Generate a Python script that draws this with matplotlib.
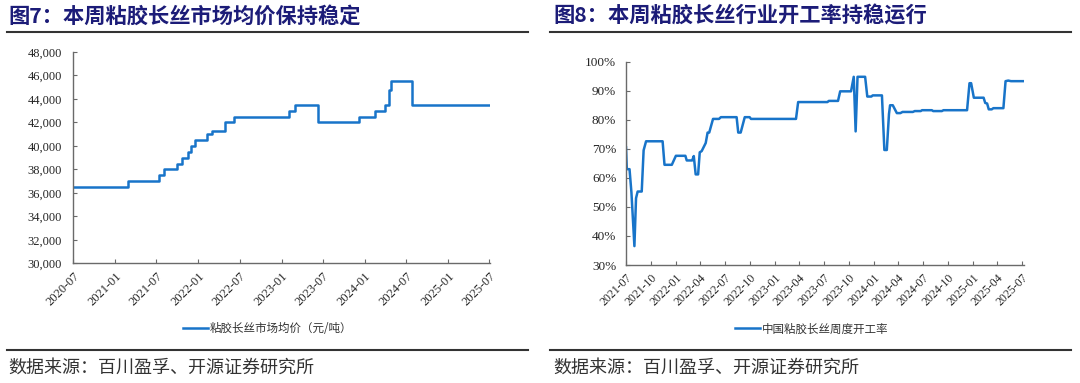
import matplotlib
matplotlib.use('Agg')
import matplotlib.pyplot as plt
import matplotlib.dates as mdates
from matplotlib.lines import Line2D
from matplotlib.ticker import FuncFormatter
import pandas as pd

# price changes (date of change, new price), yuan/ton
price_dates = ['2020-07-01', '2021-02-24', '2021-07-11', '2021-08-05', '2021-09-27',
               '2021-10-19', '2021-11-16', '2021-11-30', '2021-12-15', '2022-02-06',
               '2022-02-28', '2022-04-30', '2022-06-06', '2023-02-01', '2023-03-03',
               '2023-06-10', '2023-12-07', '2024-02-16', '2024-03-28', '2024-04-16',
               '2024-04-24', '2024-07-28', '2025-07-04']
price_vals = [36500, 37000, 37500, 38000, 38500,
              39000, 39500, 40000, 40500, 41000,
              41300, 42000, 42500, 43000, 43500,
              42000, 42500, 43000, 43500, 44750,
              45500, 43500, 43500]

# weekly operating rate, %
rate_dates = ['2021-07-01', '2021-07-04', '2021-07-14', '2021-07-21', '2021-08-01',
              '2021-08-07', '2021-08-13', '2021-08-28', '2021-09-04', '2021-09-13',
              '2021-11-13', '2021-11-20', '2021-12-17', '2022-01-01', '2022-02-05',
              '2022-02-10', '2022-03-02', '2022-03-08', '2022-03-15', '2022-03-24',
              '2022-03-30', '2022-04-06', '2022-04-21', '2022-04-28', '2022-05-04',
              '2022-05-18', '2022-06-09', '2022-06-16', '2022-08-13', '2022-08-19',
              '2022-08-28', '2022-09-12', '2022-09-30', '2022-10-05', '2023-03-20',
              '2023-03-28', '2023-07-14', '2023-07-19', '2023-08-22', '2023-08-30',
              '2023-10-09', '2023-10-19', '2023-10-26', '2023-11-02', '2023-11-30',
              '2023-12-08', '2023-12-23', '2023-12-28', '2024-01-31', '2024-02-09',
              '2024-02-18', '2024-02-26', '2024-03-01', '2024-03-11', '2024-03-26',
              '2024-04-08', '2024-04-16', '2024-05-24', '2024-05-31', '2024-06-22',
              '2024-06-27', '2024-08-02', '2024-08-07', '2024-09-08', '2024-09-14',
              '2024-12-10', '2024-12-19', '2024-12-25', '2025-01-04', '2025-02-09',
              '2025-02-15', '2025-02-22', '2025-02-28', '2025-03-11', '2025-03-17',
              '2025-04-23', '2025-05-01', '2025-05-11', '2025-05-21', '2025-07-08']
rate_vals = [70.5, 63.0, 63.0, 55.0, 36.5,
             53.0, 55.3, 55.3, 69.5, 72.6,
             72.6, 64.5, 64.5, 67.6, 67.6,
             66.0, 66.0, 67.5, 61.2, 61.2,
             68.8, 69.2, 72.0, 75.6, 75.6,
             80.3, 80.3, 80.9, 80.9, 75.6,
             75.6, 80.9, 80.9, 80.3, 80.3,
             86.1, 86.1, 86.5, 86.5, 89.8,
             89.8, 94.8, 76.0, 94.8, 94.8,
             88.0, 88.0, 88.4, 88.4, 69.6,
             69.6, 82.0, 85.0, 85.0, 82.3,
             82.3, 82.7, 82.7, 83.0, 83.0,
             83.3, 83.3, 83.0, 83.0, 83.3,
             83.3, 92.6, 92.6, 87.6, 87.6,
             85.8, 85.6, 83.6, 83.6, 84.0,
             84.0, 93.3, 93.5, 93.3, 93.3]

price_ticks = pd.date_range('2020-07-01', '2025-07-01', freq='6MS')
rate_ticks = pd.date_range('2021-07-01', '2025-07-01', freq='3MS')

title_l = '图7：本周粘胶长丝市场均价保持稳定'
title_r = '图8：本周粘胶长丝行业开工率持稳运行'
legend_l = '粘胶长丝市场均价（元/吨）'
legend_r = '中国粘胶长丝周度开工率'
source = '数据来源：百川盈孚、开源证券研究所'

cjk = ['Noto Sans CJK SC', 'DejaVu Sans']
serif = 'Liberation Serif'
blue = '#1874c9'
navy = '#1c1c78'
axis_col = '#6a6a6a'
W, H = 1080, 383

fig = plt.figure(figsize=(W / 100, H / 100), dpi=100)


def fx(px):
    return px / W


def fy(py):
    return 1 - py / H


def style_axes(ax):
    for s in ['top', 'right']:
        ax.spines[s].set_visible(False)
    for s in ['left', 'bottom']:
        ax.spines[s].set_color(axis_col)
        ax.spines[s].set_linewidth(1.0)
    ax.tick_params(direction='in', length=3, width=0.8, color=axis_col,
                   labelcolor='#262626')
    for lab in ax.get_yticklabels():
        lab.set_fontfamily(serif)
    for lab in ax.get_xticklabels():
        lab.set_fontfamily(serif)
        lab.set_rotation(45)
        lab.set_ha('right')
        lab.set_va('top')
        lab.set_rotation_mode('anchor')


# left chart: price
ax1 = fig.add_axes([fx(73.3), fy(263.3), fx(490 - 73.3), (263.3 - 52) / H])
pdates = pd.to_datetime(price_dates)
line1, = ax1.plot(pdates, price_vals, drawstyle='steps-post', color=blue, lw=1.8)
ax1.set_xlim(pd.Timestamp('2020-07-01'), pd.Timestamp('2025-07-04'))
ax1.set_ylim(30000, 48000)
ax1.set_yticks(range(30000, 48001, 2000))
ax1.yaxis.set_major_formatter(FuncFormatter(lambda v, p: f'{v:,.0f}'))
ax1.set_xticks(price_ticks)
ax1.xaxis.set_major_formatter(mdates.DateFormatter('%Y-%m'))
ax1.tick_params(axis='y', labelsize=9, pad=8)
ax1.tick_params(axis='x', labelsize=9, pad=5)
style_axes(ax1)

# right chart: operating rate
ax2 = fig.add_axes([fx(626), fy(265), fx(1024 - 626), (265 - 61.7) / H])
rdates = pd.to_datetime(rate_dates)
line2, = ax2.plot(rdates, rate_vals, color=blue, lw=1.8)
ax2.set_xlim(pd.Timestamp('2021-07-01'), pd.Timestamp('2025-07-08'))
ax2.set_ylim(30, 100)
ax2.set_yticks(range(30, 101, 10))
ax2.yaxis.set_major_formatter(FuncFormatter(lambda v, p: f'{v:.0f}%'))
ax2.set_xticks(rate_ticks)
ax2.xaxis.set_major_formatter(mdates.DateFormatter('%Y-%m'))
ax2.tick_params(axis='y', labelsize=9.5, pad=7)
ax2.tick_params(axis='x', labelsize=8.5, pad=5)
style_axes(ax2)

# legends
for line, label, cx in [(line1, legend_l, 268), (line2, legend_r, 812)]:
    fig.legend([line], [label], loc='center', bbox_to_anchor=(fx(cx), fy(329)),
               frameon=False, handlelength=2.1, handletextpad=0.2,
               prop={'family': cjk, 'size': 8.3}, labelcolor='#333333')

# titles, rules and source lines
fig.text(fx(8), fy(16), title_l, family=cjk, fontsize=15.3, fontweight='bold',
         color=navy, va='center', ha='left')
fig.text(fx(553), fy(16), title_r, family=cjk, fontsize=15.3, fontweight='bold',
         color=navy, va='center', ha='left')
for x0, x1 in [(7, 528), (550, 1071)]:
    fig.add_artist(Line2D([fx(x0), fx(x1)], [fy(32), fy(32)], color='#333333', lw=1.5))
    fig.add_artist(Line2D([fx(x0), fx(x1)], [fy(350), fy(350)], color='#333333', lw=1.5))
fig.text(fx(8), fy(368), source, family=cjk, fontsize=13, color='#333333',
         va='center', ha='left')
fig.text(fx(553), fy(368), source, family=cjk, fontsize=13, color='#333333',
         va='center', ha='left')

fig.savefig('out.png', dpi=100)
